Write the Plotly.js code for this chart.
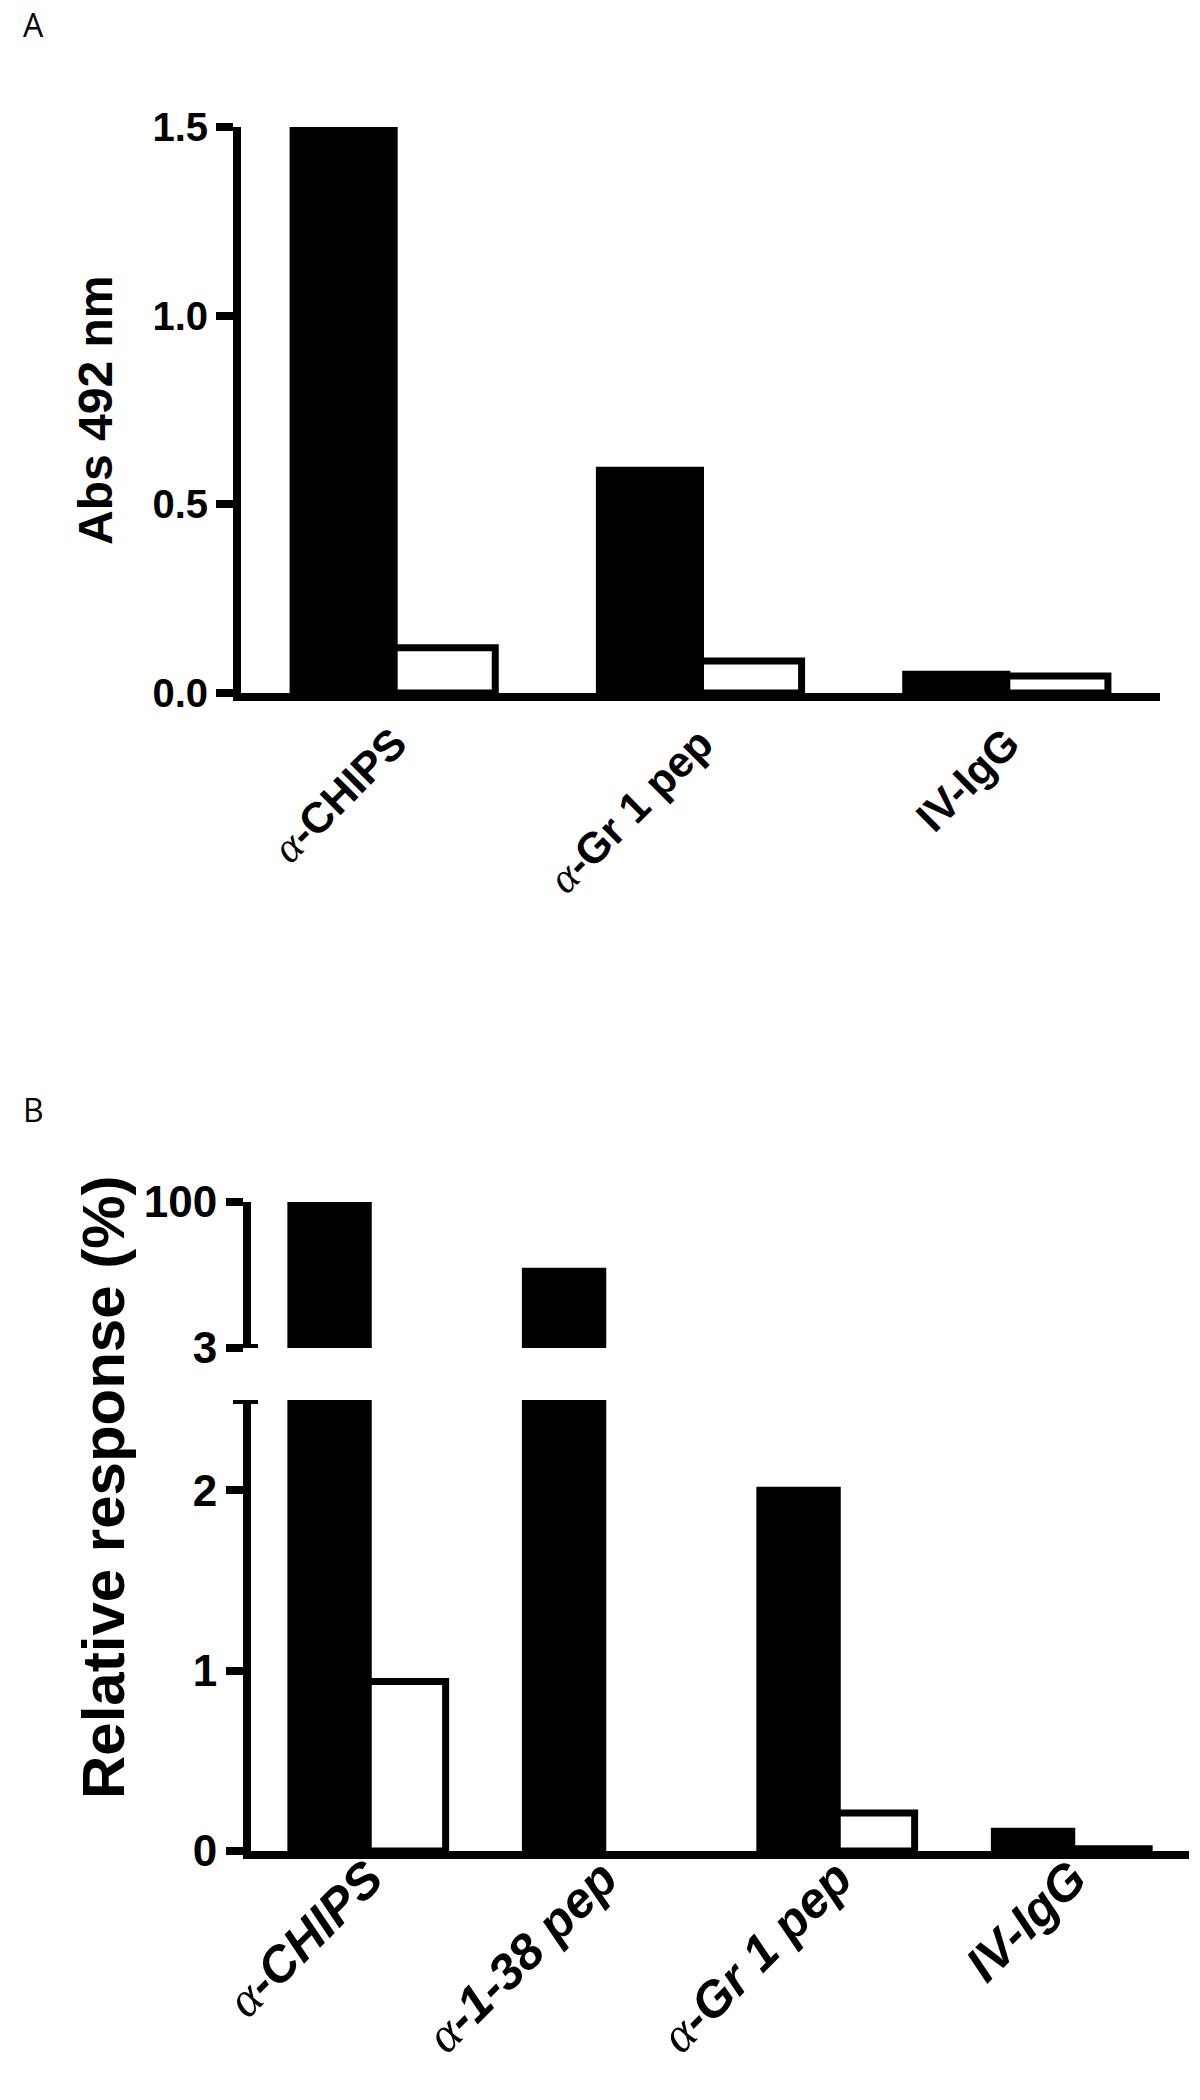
<!DOCTYPE html>
<html>
<head>
<meta charset="utf-8">
<script src="https://cdn.plot.ly/plotly-3.0.1.min.js"></script>
<style>
  body { margin: 0; background: #fff; }
  #chart { width: 1200px; height: 2100px; }
</style>
</head>
<body>
<div id="chart"></div>
<script>
// Panel A: ELISA absorbance
var catsA = ["α-CHIPS", "α-Gr 1 pep", "IV-IgG"];
var filledA = [1.5, 0.59, 0.05];
var openA = [0.12, 0.085, 0.045];
var ticksA = [0, 0.5, 1.0, 1.5];

// Panel B: relative response, broken y axis (0-2.5 and 3-100)
var catsB = ["α-CHIPS", "α-1-38 pep", "α-Gr 1 pep", "IV-IgG"];
var filledB = [100, 54, 2.0, 0.11];
var openB = [0.94, 0, 0.21, 0.012];
var ticksBLow = [0, 1, 2];
var ticksBHigh = [3, 100];
var breakLow = 2.5, breakHigh = 3;

var W = 1200, H = 2100;
function px(x) { return x / W; }
function py(y) { return 1 - y / H; }

// serif alpha like the original figure
function alphaLabel(s) {
  return s.replace("α", '<span style="font-family:\'Liberation Serif\',serif;font-weight:normal;font-style:italic">α</span>');
}

function barPair(cats, filled, open, xa, ya) {
  // no outline for zero height bars
  function lw(v) { return v === 0 ? 0 : 7; }
  return [
    {type: "bar", x: cats, y: filled, xaxis: xa, yaxis: ya, hoverinfo: "none",
     marker: {color: "black", line: {color: "black", width: filled.map(lw)}}},
    {type: "bar", x: cats, y: open, xaxis: xa, yaxis: ya, hoverinfo: "none",
     marker: {color: "white", line: {color: "black", width: open.map(lw)}}}
  ];
}

// upper segment only shows bars that reach above the break
function aboveBreak(arr) { return arr.map(function (v) { return v >= breakHigh ? v : null; }); }

var data = []
  .concat(barPair(catsA, filledA, openA, "x", "y"))
  .concat(barPair(catsB, filledB, openB, "x2", "y2"))
  .concat(barPair(catsB, aboveBreak(filledB), aboveBreak(openB), "x3", "y3"));

var sans = "Liberation Sans, Arial, sans-serif";

var yCommon = {
  showline: true, linecolor: "black", linewidth: 8,
  ticks: "outside", ticklen: 17, tickwidth: 8, tickcolor: "black",
  showgrid: false, zeroline: false, fixedrange: true
};

var layout = {
  width: W, height: H,
  margin: {l: 0, r: 0, t: 0, b: 0},
  paper_bgcolor: "white", plot_bgcolor: "white",
  showlegend: false,
  barmode: "group", bargap: 0.34, bargroupgap: 0,
  xaxis: {
    domain: [px(241), px(1160)], anchor: "y", type: "category",
    range: [-0.5, 2.5], showline: true, linecolor: "black", linewidth: 8,
    ticks: "", tickangle: -45, tickvals: catsA, ticktext: catsA.map(alphaLabel),
    tickfont: {family: sans, size: 43, weight: "bold", color: "black"},
    showgrid: false, fixedrange: true
  },
  yaxis: Object.assign({}, yCommon, {
    domain: [py(693), py(127)], anchor: "x", range: [0, 1.5],
    tickvals: ticksA, tickformat: ".1f",
    tickfont: {family: sans, size: 40, weight: "bold", color: "black"}
  }),
  xaxis2: {
    domain: [px(251), px(1189)], anchor: "y2", type: "category",
    range: [-0.5, 3.5], showline: true, linecolor: "black", linewidth: 8,
    ticks: "", tickangle: -45, tickvals: catsB, ticktext: catsB.map(alphaLabel),
    ticklabelstandoff: -30,
    tickfont: {family: sans, size: 50, weight: "bold", style: "italic", color: "black"},
    showgrid: false, fixedrange: true
  },
  yaxis2: Object.assign({}, yCommon, {
    domain: [py(1851), py(1400)], anchor: "x2", range: [0, breakLow],
    tickvals: ticksBLow,
    tickfont: {family: sans, size: 44, weight: "bold", color: "black"}
  }),
  xaxis3: {
    domain: [px(251), px(1189)], anchor: "y3", type: "category",
    range: [-0.5, 3.5], visible: false, fixedrange: true
  },
  yaxis3: Object.assign({}, yCommon, {
    domain: [py(1348), py(1202)], anchor: "x3", range: [breakHigh, 100],
    tickvals: ticksBHigh,
    tickfont: {family: sans, size: 44, weight: "bold", color: "black"}
  }),
  shapes: [
    // axis break caps
    {type: "line", xref: "paper", yref: "y3", x0: px(243), x1: px(258), y0: breakHigh, y1: breakHigh,
     line: {color: "black", width: 8}},
    {type: "line", xref: "paper", yref: "y2", x0: px(233), x1: px(258), y0: breakLow, y1: breakLow,
     line: {color: "black", width: 8}}
  ],
  annotations: [
    {text: "A", xref: "paper", yref: "paper", x: px(33), y: py(24), xanchor: "center", yanchor: "middle",
     showarrow: false, font: {family: "Open Sans, sans-serif", size: 32, color: "black"}},
    {text: "B", xref: "paper", yref: "paper", x: px(33), y: py(1109), xanchor: "center", yanchor: "middle",
     showarrow: false, font: {family: "Open Sans, sans-serif", size: 32, color: "black"}},
    {text: "Abs 492 nm", xref: "paper", yref: "paper", x: px(95), y: py(411), textangle: -90,
     xanchor: "center", yanchor: "middle", showarrow: false,
     font: {family: sans, size: 48, weight: "bold", color: "black"}},
    {text: "Relative response (%)", xref: "paper", yref: "paper", x: px(103), y: py(1487), textangle: -90,
     xanchor: "center", yanchor: "middle", showarrow: false,
     font: {family: sans, size: 60, weight: "bold", color: "black"}}
  ]
};

Plotly.newPlot("chart", data, layout, {staticPlot: true});
</script>
</body>
</html>
